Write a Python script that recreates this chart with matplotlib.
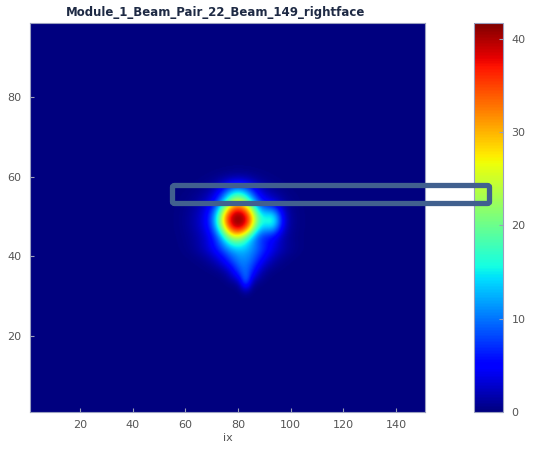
import numpy as np
import matplotlib
matplotlib.use("Agg")
import matplotlib.pyplot as plt
from matplotlib.patches import FancyBboxPatch

# grid extents (ix, iy)
ix_range = [1, 151]
iy_range = [1, 98.5]

# blob components:
# centre x, centre y, peak, sigma x, sigma y, flatness (1 = plain gaussian)
blob_x = [80.0, 80.5, 80.0, 93.0, 78.0, 82.0, 82.0, 82.5, 83.0]
blob_y = [49.3, 49.0, 55.5, 49.0, 44.5, 42.0, 39.0, 36.0, 33.5]
blob_amp = [27.0, 13.0, 9.0, 10.0, 4.0, 6.0, 6.5, 6.0, 4.5]
blob_sx = [5.2, 8.5, 4.5, 2.8, 4.0, 8.0, 5.8, 3.6, 1.6]
blob_sy = [3.3, 4.5, 2.3, 2.5, 2.0, 1.8, 1.8, 1.8, 1.6]
blob_p = [1.25, 1.0, 1.0, 1.0, 1.0, 1.0, 1.0, 1.0, 1.0]

cbar_ticks = [0, 10, 20, 30, 40]
x_ticks = [20, 40, 60, 80, 100, 120, 140]
y_ticks = [20, 40, 60, 80]
vmax = 41.7

x = np.linspace(ix_range[0], ix_range[1], 600)
y = np.linspace(iy_range[0], iy_range[1], 400)
X, Y = np.meshgrid(x, y)
Z = np.zeros_like(X)
for cx, cy, a, sx, sy, p in zip(blob_x, blob_y, blob_amp, blob_sx, blob_sy, blob_p):
    u = (X - cx) ** 2 / (2 * sx**2) + (Y - cy) ** 2 / (2 * sy**2)
    Z += a * np.exp(-u**p)

fig = plt.figure(figsize=(5.52, 4.49), dpi=100)
W, H = 552, 449
ax = fig.add_axes([30 / W, 1 - 412 / H, 395 / W, 389 / H])
cax = fig.add_axes([474 / W, 1 - 412 / H, 29 / W, 389 / H])

im = ax.imshow(Z, origin="lower", cmap="jet", vmin=0, vmax=vmax,
               extent=[ix_range[0], ix_range[1], iy_range[0], iy_range[1]],
               aspect="auto", interpolation="bilinear")
ax.set_xticks(x_ticks)
ax.set_yticks(y_ticks)
ax.tick_params(direction="in", length=3, colors="#9aa0b8", labelcolor="#555555",
               labelsize=8, pad=6)
for s in ax.spines.values():
    s.set_color("#9aa0c0")
    s.set_linewidth(0.8)
ax.set_xlabel("ix", fontsize=8, color="#555555", labelpad=2)
ax.set_title("Module_1_Beam_Pair_22_Beam_149_rightface", fontsize=8.5,
             fontweight="bold", color="#1e2a44", pad=5, x=0.47)

cb = fig.colorbar(im, cax=cax, ticks=cbar_ticks)
cb.outline.set_edgecolor("#9aa0c0")
cb.outline.set_linewidth(0.8)
cax.tick_params(direction="in", length=3, colors="#9aa0b8", labelcolor="#555555",
                labelsize=8, pad=6)

# highlight box drawn over the figure
box = FancyBboxPatch((172.5 / W, 1 - 203.5 / H), 317 / W, 18 / H,
                     boxstyle="round,pad=0,rounding_size=0.004",
                     transform=fig.transFigure, fill=False,
                     edgecolor="#41608f", linewidth=3.8, zorder=10)
fig.patches.append(box)

fig.savefig("out.png", dpi=100)
